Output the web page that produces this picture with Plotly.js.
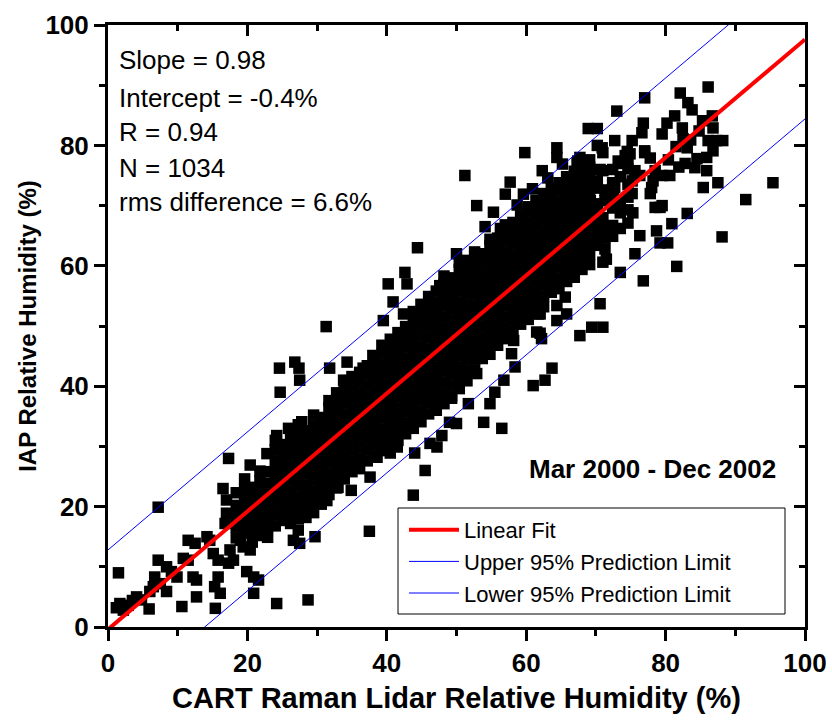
<!DOCTYPE html>
<html><head><meta charset="utf-8">
<script src="https://cdn.plot.ly/plotly-3.0.1.min.js"></script>
<style>html,body{margin:0;padding:0;background:#fff}#chart{width:832px;height:723px}</style>
</head><body><div id="chart"></div>
<script>
// [lidar RH, IAP RH] pairs
const lowRangePts = [
[1.5,9.0],[1.2,3.2],[1.7,3.9],[2.2,2.8],[2.9,3.6],[3.5,4.4],[4.1,5.0],[4.8,4.5],[5.9,3.0],[6.0,5.9],
[6.5,6.7],[6.7,8.3],[7.5,7.2],[7.2,11.1],[7.2,19.9],[8.4,10.0],[8.4,5.9],[9.1,9.2],[9.9,8.3],[10.6,3.4],
[10.8,11.4],[11.5,11.1],[11.5,14.4],[12.5,13.9],[12.2,8.3],[12.7,7.8],[12.7,5.0],[14.2,15.0],[14.6,14.4],
[15.1,12.2],[15.8,11.1],[15.8,8.3],[15.3,6.7],[16.1,5.6],[15.4,3.1],[16.5,23.0],[16.8,17.2],[17.0,18.9],
[17.0,21.1],[17.5,12.8],[17.3,10.6],[18.0,11.1],[17.3,28.0]
];
const midRangePts = [
[19.9,9.2],[20.9,8.3],[21.6,7.8],[20.9,5.6],[19.0,14.4],[19.4,13.3],[20.4,12.8],[24.2,3.9],[26.6,14.4],
[27.5,13.9],[29.7,15.0],[28.7,4.5],[30.9,21.1],[20.4,26.9],[22.8,28.8],[24.6,43.0],[26.8,44.0],[27.4,43.0],
[27.5,41.0],[24.7,39.0],[31.3,49.9],[31.8,43.0],[33.8,41.0],[34.3,44.0],[36.6,43.0],[33.7,38.8],[29.0,21.6],
[27.5,19.4],[31.4,21.0],[33.0,23.2],[34.9,22.7],[24.2,31.8],[25.9,33.0],[27.8,34.1],
[18.4,14.8],[18.4,16.6],[18.4,18.4],[18.4,20.2],[18.4,22.3],
[19.6,15.6],[19.6,17.4],[19.6,19.2],[19.6,21.0],[19.6,22.8],[19.6,24.6],
[20.7,14.1],[20.7,15.9],[20.7,17.7],[20.7,19.5],[20.7,21.3],[20.7,23.2],
[21.8,15.2],[21.8,17.0],[21.8,18.8],[21.8,20.6],[21.8,22.4],[21.8,24.2],[21.8,25.9],
[22.9,14.9],[22.9,16.7],[22.9,18.5],[22.9,20.3],[22.9,22.1],[22.9,23.9],[22.9,25.8],
[24.0,16.8],[24.0,18.6],[24.0,20.4],[24.0,22.2],[24.0,24.0],[24.0,25.8],[24.0,27.6],[24.0,29.4],[24.0,31.0],
[25.1,17.7],[25.1,19.5],[25.1,21.3],[25.1,23.1],[25.1,24.9],[25.1,26.7],[25.1,28.5],[25.1,30.3],
[26.2,17.2],[26.2,19.0],[26.2,20.8],[26.2,22.6],[26.2,24.4],[26.2,26.2],[26.2,28.0],[26.2,29.8],[26.2,31.6],
[27.3,16.1],[27.3,18.0],[27.3,19.8],[27.3,21.6],[27.3,23.4],[27.3,25.2],[27.3,27.0],[27.3,28.8],[27.3,30.6],[27.3,32.4],[27.3,33.6],
[28.4,18.2],[28.4,20.0],[28.4,21.8],[28.4,23.6],[28.4,25.4],[28.4,27.2],[28.4,29.0],[28.4,30.8],[28.4,32.6],
[29.5,19.0],[29.5,20.8],[29.5,22.6],[29.5,24.4],[29.5,26.2],[29.5,28.0],[29.5,29.8],[29.5,31.6],[29.5,33.4],[29.5,35.2],
[30.6,20.4],[30.6,22.2],[30.6,24.0],[30.6,25.8],[30.6,27.6],[30.6,29.4],[30.6,31.2],[30.6,33.0],[30.6,34.8],
[31.7,22.0],[31.7,23.8],[31.7,25.6],[31.7,27.4],[31.7,29.2],[31.7,31.0],[31.7,32.8],[31.7,34.6],[31.7,36.4],[31.7,37.6],
[32.8,23.1],[32.8,24.9],[32.8,26.7],[32.8,28.5],[32.8,30.3],[32.8,32.1],[32.8,33.9],[32.8,35.7],[32.8,37.5],[32.8,38.9],
[33.9,24.6],[33.9,26.4],[33.9,28.2],[33.9,30.0],[33.9,31.8],[33.9,33.6],[33.9,35.4],[33.9,37.2],[33.9,39.0],[33.9,40.2]
];
const centreRangePts = [
[37.6,24.9],[37.5,15.9],[43.8,21.9],[45.5,26.0],[44.0,28.9],[46.2,30.5],[47.9,31.8],[40.5,28.9],[38.6,28.2],
[41.5,29.9],[49.0,34.0],[50.0,33.8],[48.6,38.0],[47.2,29.9],
[38.0,45.1],[39.3,46.8],[44.4,63.0],[42.6,58.9],[40.2,57.0],[42.9,57.0],[40.9,54.0],[42.4,52.0],[39.5,50.9],
[43.3,49.8],[47.6,56.7],[50.0,62.0],[51.5,60.9],
[53.9,34.0],[56.5,33.0],[51.7,37.1],[54.8,37.1],[55.5,39.0],[49.3,38.0],[52.9,42.1],[56.8,41.0],[58.4,43.2],
[61.0,40.1],[62.7,41.0],[63.7,43.0],[61.5,49.0],[62.2,47.9],[62.0,52.0],[64.4,50.9],[57.9,45.4],[58.2,47.6],
[35.0,25.8],[35.0,27.6],[35.0,29.4],[35.0,31.2],[35.0,33.0],[35.0,34.8],[35.0,36.6],[35.0,38.4],[35.0,40.2],[35.0,41.6],
[36.1,26.3],[36.1,28.1],[36.1,29.9],[36.1,31.7],[36.1,33.5],[36.1,35.3],[36.1,37.1],[36.1,38.9],[36.1,40.7],[36.1,42.3],
[37.2,27.6],[37.2,29.4],[37.2,31.2],[37.2,33.0],[37.2,34.8],[37.2,36.6],[37.2,38.4],[37.2,40.2],[37.2,42.0],[37.2,43.4],
[38.3,28.4],[38.3,30.2],[38.3,32.0],[38.3,33.8],[38.3,35.6],[38.3,37.4],[38.3,39.2],[38.3,41.0],[38.3,42.8],[38.3,44.4],
[39.4,29.3],[39.4,31.1],[39.4,32.9],[39.4,34.7],[39.4,36.5],[39.4,38.3],[39.4,40.1],[39.4,41.9],[39.4,43.7],[39.4,45.5],[39.4,46.6],
[40.5,30.2],[40.5,32.0],[40.5,33.8],[40.5,35.6],[40.5,37.4],[40.5,39.2],[40.5,41.0],[40.5,42.8],[40.5,44.6],[40.5,46.4],[40.5,47.8],
[41.6,31.0],[41.6,32.8],[41.6,34.6],[41.6,36.4],[41.6,38.2],[41.6,40.0],[41.6,41.8],[41.6,43.6],[41.6,45.4],[41.6,47.2],[41.6,48.9],
[42.7,32.1],[42.7,33.9],[42.7,35.7],[42.7,37.5],[42.7,39.3],[42.7,41.1],[42.7,42.9],[42.7,44.7],[42.7,46.5],[42.7,48.3],[42.7,49.9],
[43.8,33.0],[43.8,34.8],[43.8,36.6],[43.8,38.4],[43.8,40.2],[43.8,42.0],[43.8,43.8],[43.8,45.6],[43.8,47.4],[43.8,49.2],[43.8,51.0],[43.8,52.4],
[44.9,34.1],[44.9,35.9],[44.9,37.7],[44.9,39.5],[44.9,41.3],[44.9,43.1],[44.9,44.9],[44.9,46.7],[44.9,48.5],[44.9,50.3],[44.9,52.1],[44.9,53.6],
[46.0,35.4],[46.0,37.2],[46.0,39.0],[46.0,40.8],[46.0,42.6],[46.0,44.4],[46.0,46.2],[46.0,48.0],[46.0,49.8],[46.0,51.6],[46.0,53.4],[46.0,54.9],
[47.1,36.0],[47.1,37.8],[47.1,39.6],[47.1,41.4],[47.1,43.2],[47.1,45.0],[47.1,46.8],[47.1,48.6],[47.1,50.4],[47.1,52.2],[47.1,54.0],[47.1,55.8],
[48.2,37.1],[48.2,38.9],[48.2,40.7],[48.2,42.5],[48.2,44.3],[48.2,46.1],[48.2,47.9],[48.2,49.7],[48.2,51.5],[48.2,53.3],[48.2,55.1],[48.2,56.9],[48.2,58.3],
[49.3,38.4],[49.3,40.2],[49.3,42.0],[49.3,43.8],[49.3,45.6],[49.3,47.4],[49.3,49.2],[49.3,51.0],[49.3,52.8],[49.3,54.6],[49.3,56.4],[49.3,58.0],
[50.4,39.6],[50.4,41.4],[50.4,43.2],[50.4,45.0],[50.4,46.8],[50.4,48.6],[50.4,50.4],[50.4,52.2],[50.4,54.0],[50.4,55.8],[50.4,57.6],[50.4,59.4],[50.4,60.6],
[51.5,40.9],[51.5,42.7],[51.5,44.5],[51.5,46.3],[51.5,48.1],[51.5,49.9],[51.5,51.7],[51.5,53.5],[51.5,55.3],[51.5,57.1],[51.5,58.9],[51.5,60.1],
[52.6,42.7],[52.6,44.5],[52.6,46.3],[52.6,48.1],[52.6,49.9],[52.6,51.7],[52.6,53.5],[52.6,55.3],[52.6,57.1],[52.6,58.9],[52.6,60.7],[52.6,62.3],
[53.7,44.6],[53.7,46.4],[53.7,48.2],[53.7,50.0],[53.7,51.8],[53.7,53.6],[53.7,55.4],[53.7,57.2],[53.7,59.0],[53.7,60.8],[53.7,62.0],
[54.8,45.3],[54.8,47.1],[54.8,48.9],[54.8,50.7],[54.8,52.5],[54.8,54.3],[54.8,56.1],[54.8,57.9],[54.8,59.7],[54.8,61.5],[54.8,63.3],[54.8,64.4],
[55.9,46.8],[55.9,48.6],[55.9,50.4],[55.9,52.2],[55.9,54.0],[55.9,55.8],[55.9,57.6],[55.9,59.4],[55.9,61.2],[55.9,63.0],[55.9,64.6]
];
const highRangePts = [
[57.0,47.9],[57.0,49.7],[57.0,51.5],[57.0,53.3],[57.0,55.1],[57.0,56.9],[57.0,58.7],[57.0,60.5],[57.0,62.3],[57.0,64.1],[57.0,65.9],[57.0,66.8],
[58.1,49.2],[58.1,51.0],[58.1,52.8],[58.1,54.6],[58.1,56.4],[58.1,58.2],[58.1,60.0],[58.1,61.8],[58.1,63.6],[58.1,65.4],[58.1,67.2],
[59.2,50.3],[59.2,52.1],[59.2,53.9],[59.2,55.7],[59.2,57.5],[59.2,59.3],[59.2,61.1],[59.2,62.9],[59.2,64.7],[59.2,66.5],[59.2,68.3],
[60.3,51.1],[60.3,52.9],[60.3,54.7],[60.3,56.5],[60.3,58.3],[60.3,60.1],[60.3,61.9],[60.3,63.7],[60.3,65.5],[60.3,67.3],[60.3,69.1],[60.3,69.8],
[61.4,53.6],[61.4,55.4],[61.4,57.2],[61.4,59.0],[61.4,60.8],[61.4,62.6],[61.4,64.4],[61.4,66.2],[61.4,68.0],[61.4,69.8],[61.4,70.9],
[62.5,53.2],[62.5,55.0],[62.5,56.8],[62.5,58.6],[62.5,60.4],[62.5,62.2],[62.5,64.0],[62.5,65.8],[62.5,67.6],[62.5,69.4],[62.5,71.2],[62.5,72.0],
[63.6,55.6],[63.6,57.4],[63.6,59.2],[63.6,61.0],[63.6,62.8],[63.6,64.6],[63.6,66.4],[63.6,68.2],[63.6,70.0],[63.6,71.8],[63.6,72.9],
[64.7,56.2],[64.7,58.0],[64.7,59.8],[64.7,61.6],[64.7,63.4],[64.7,65.2],[64.7,67.0],[64.7,68.8],[64.7,70.6],[64.7,72.4],[64.7,73.8],
[65.8,57.4],[65.8,59.2],[65.8,61.0],[65.8,62.8],[65.8,64.6],[65.8,66.4],[65.8,68.2],[65.8,70.0],[65.8,71.8],[65.8,73.6],[65.8,74.8],
[66.9,58.1],[66.9,59.9],[66.9,61.7],[66.9,63.5],[66.9,65.3],[66.9,67.1],[66.9,68.9],[66.9,70.7],[66.9,72.5],[66.9,74.3],[66.9,75.7],
[68.0,59.4],[68.0,61.2],[68.0,63.0],[68.0,64.8],[68.0,66.6],[68.0,68.4],[68.0,70.2],[68.0,72.0],[68.0,73.8],[68.0,75.6],[68.0,76.6],
[69.1,60.2],[69.1,62.0],[69.1,63.8],[69.1,65.6],[69.1,67.4],[69.1,69.2],[69.1,71.0],[69.1,72.8],[69.1,74.6],[69.1,76.4],[69.1,77.6],
[70.2,63.4],[70.2,65.2],[70.2,67.0],[70.2,68.8],[70.2,72.9],[70.2,74.1],
[71.3,62.8],[71.3,64.6],[71.3,66.4],[71.3,70.8],[71.3,72.6],
[72.4,64.9],[72.4,66.7],[72.4,69.6],[72.4,73.8],[72.4,76.0],
[73.5,66.2],[73.5,70.5],[73.5,74.8],
[74.6,67.1],[74.6,69.3],[74.6,71.4],[74.6,73.5],[74.6,77.8],
[56.3,66.2],[58.7,70.1],[60.9,72.8],[63.1,74.6],[65.2,76.9],[54.1,66.5],
[78.7,65.8],[76.3,65.0],[75.6,62.0],[71.5,61.1],[71.0,60.6],[73.5,58.9],[76.8,57.5],[70.6,53.7],[69.4,49.8],
[71.0,49.8],[67.7,48.4],[65.6,54.8],[65.8,52.0],[64.4,53.4],[61.7,52.0],[62.0,48.8],[58.9,52.0],
[70.2,80.0],[71.0,78.8],[74.5,79.0],[73.7,77.0],[77.0,78.8],[70.6,76.0],[67.4,77.4],[68.4,75.8],[62.3,75.8],
[57.7,73.9],[57.0,71.9],[59.6,71.9],[55.3,68.9],[52.9,70.0],[51.2,75.0],[79.2,69.7],[59.8,78.8],[64.4,79.6],[64.4,78.0]
];
const topRangePts = [
[86.1,89.7],[82.1,88.7],[77.0,87.9],[83.2,87.1],[83.8,85.9],[73.0,85.7],[68.9,82.8],[70.2,82.8],[76.8,83.7],
[76.6,82.1],[80.2,83.7],[79.5,81.9],[81.3,84.9],[82.4,82.9],[82.5,81.1],[86.7,84.9],[86.8,82.9],[88.2,80.8],
[86.1,80.8],[87.3,80.8],[86.8,79.1],[72.7,80.8],[70.9,79.6],[75.2,80.8],[74.2,78.3],[74.9,78.6],[77.0,79.1],
[77.8,77.9],[83.1,79.6],[82.8,77.0],[84.5,77.8],[84.2,76.3],[85.9,75.8],[87.5,73.8],[85.4,73.0],[95.4,73.8],
[91.5,71.0],[88.1,64.8],[83.1,68.7],[80.9,67.0],[79.5,70.0],[78.5,69.7],[80.3,63.8],[79.2,63.8],[77.8,72.0],
[78.0,73.0],[75.2,74.1],[75.2,72.0],[75.3,68.8],[73.5,68.8],[71.0,68.0],[70.2,70.3],[67.7,70.8],[69.2,70.8],
[72.7,73.0],[72.5,71.6],[67.3,77.0],[68.9,75.8],[71.0,75.8],[73.2,77.4],[75.6,75.8],[74.6,76.1],[76.3,75.0],
[78.5,75.8],[79.5,75.0],[80.6,75.0],[78.2,74.1],[81.6,59.9],[67.7,78.0],[81.5,79.8],[80.4,77.6],[81.9,76.4],
[83.6,80.9],[84.8,82.4],[85.3,84.1],[85.9,78.0]
];
// fit and 95% prediction limits (end points)
const fitX = [0, 100];
const fitY = [-0.4, 97.6];
const upperY = [12.8, 110.8];
const lowerY = [-13.6, 84.4];
const statsLines = ['Slope = 0.98', 'Intercept = -0.4%', 'R = 0.94', 'N = 1034', 'rms difference = 6.6%'];
const periodLabel = 'Mar 2000 - Dec 2002';
const seriesNames = ['Linear Fit', 'Upper 95% Prediction Limit', 'Lower 95% Prediction Limit'];
const xTitle = 'CART Raman Lidar Relative Humidity (%)';
const yTitle = 'IAP Relative Humidity (%)';

const allPts = [].concat(lowRangePts, midRangePts, centreRangePts, highRangePts, topRangePts);
const FONT = 'Liberation Sans, Arial, Helvetica, sans-serif';

const traces = [
  {type:'scatter', mode:'markers', x: allPts.map(p=>p[0]), y: allPts.map(p=>p[1]),
   marker:{symbol:'square', size:11.5, color:'#000000', line:{width:0}}, showlegend:false, hoverinfo:'skip'},
  {type:'scatter', mode:'lines', x: fitX, y: fitY, name: seriesNames[0], line:{color:'#ff0000', width:4}},
  {type:'scatter', mode:'lines', x: fitX, y: upperY, name: seriesNames[1], line:{color:'#0000ff', width:1}},
  {type:'scatter', mode:'lines', x: fitX, y: lowerY, name: seriesNames[2], line:{color:'#0000ff', width:1}},
  {type:'scatter', mode:'lines', x:[null], y:[null], xaxis:'x2', yaxis:'y', showlegend:false, hoverinfo:'skip'},
  {type:'scatter', mode:'lines', x:[null], y:[null], xaxis:'x', yaxis:'y2', showlegend:false, hoverinfo:'skip'}
];

const tickCommon = {
  range:[0,100], tick0:0, dtick:20, showgrid:false, zeroline:false,
  ticklen:11, tickwidth:3, tickcolor:'#000',
  minor:{dtick:10, ticklen:6, tickwidth:3, tickcolor:'#000'}
};

const statsY = [59, 97, 130.5, 167, 201];
const annotations = statsLines.map((t,i)=>({
  text: t, xref:'paper', yref:'paper', x:(117-108)/697, y:(627-statsY[i]-1)/602,
  xanchor:'left', yanchor:'middle', showarrow:false, font:{family:FONT, size:26, color:'#000'}
}));
annotations.push({text:'<b>'+periodLabel+'</b>', xref:'paper', yref:'paper', x:(778-108)/697, y:(627-469)/602,
  xanchor:'right', yanchor:'middle', showarrow:false, font:{family:FONT, size:26, color:'#000'}});

const layout = {
  width:832, height:723,
  margin:{l:108, r:27, t:25, b:96},
  paper_bgcolor:'#fff', plot_bgcolor:'#fff',
  font:{family:FONT, color:'#000'},
  xaxis: Object.assign({}, tickCommon, {
    showline:true, linewidth:3, linecolor:'#000', mirror:true, ticks:'outside',
    minor:Object.assign({}, tickCommon.minor, {ticks:'outside'}),
    tickfont:{family:FONT, size:26, weight:'bold'},
    title:{text:'<b>'+xTitle+'</b>', font:{family:FONT, size:29}, standoff:11}
  }),
  yaxis: Object.assign({}, tickCommon, {
    showline:true, linewidth:3, linecolor:'#000', mirror:true, ticks:'outside',
    minor:Object.assign({}, tickCommon.minor, {ticks:'outside'}),
    tickfont:{family:FONT, size:26, weight:'bold'},
    title:{text:'<b>'+yTitle+'</b>', font:{family:FONT, size:24}, standoff:3}
  }),
  xaxis2: Object.assign({}, tickCommon, {
    overlaying:'x', side:'top', anchor:'y', ticks:'inside', showline:false, showticklabels:false,
    minor:Object.assign({}, tickCommon.minor, {ticks:'inside'})
  }),
  yaxis2: Object.assign({}, tickCommon, {
    overlaying:'y', side:'right', anchor:'x', ticks:'inside', showline:false, showticklabels:false,
    minor:Object.assign({}, tickCommon.minor, {ticks:'inside'})
  }),
  showlegend:true,
  legend:{x:(404-108)/697, y:(627-509)/602, xanchor:'left', yanchor:'top',
    font:{family:FONT, size:22, color:'#000'}, bgcolor:'rgba(0,0,0,0)', borderwidth:0,
    itemwidth:50, tracegroupgap:0},
  shapes:[{type:'rect', xref:'paper', yref:'paper', x0:(398-108)/697, x1:(785-108)/697,
    y0:(627-614)/602, y1:(627-508)/602, line:{color:'#000', width:1}, fillcolor:'#fff', layer:'above'}],
  annotations: annotations
};

Plotly.newPlot('chart', traces, layout, {displayModeBar:false, staticPlot:true});
</script>
</body></html>
